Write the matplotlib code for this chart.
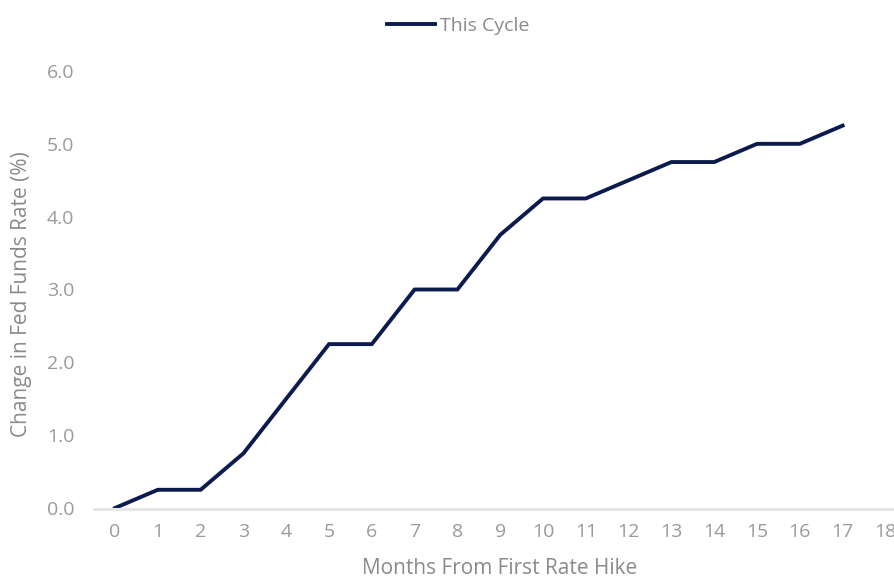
import matplotlib
matplotlib.use("Agg")
import matplotlib.pyplot as plt

months = list(range(0, 19))
month_labels = [str(m) for m in months]
this_cycle_x = list(range(0, 18))
this_cycle = [0.0, 0.25, 0.25, 0.75, 1.5, 2.25, 2.25, 3.0, 3.0, 3.75, 4.25, 4.25,
              4.5, 4.75, 4.75, 5.0, 5.0, 5.25]
y_ticks = [0.0, 1.0, 2.0, 3.0, 4.0, 5.0, 6.0]

plt.rcParams['font.family'] = ['Open Sans', 'DejaVu Sans']

W, H = 894, 579
fig = plt.figure(figsize=(W/100, H/100), dpi=100)
ax_left = 93.6 / W
ax = fig.add_axes([ax_left, (H - 508) / H, 1 - ax_left, (508 - 71) / H])

line, = ax.plot(this_cycle_x, this_cycle, color='#0c1b4d', lw=2.8, label='This Cycle',
                solid_joinstyle='miter')

ax.set_xlim(-0.5, 18.2)
ax.set_ylim(0, 6)
ax.set_xticks(months)
ax.set_xticklabels(month_labels)
ax.set_yticks(y_ticks)
ax.set_yticklabels([f"{v:.1f}" for v in y_ticks])

for s in ['top', 'right', 'left']:
    ax.spines[s].set_visible(False)
ax.spines['bottom'].set_color('#e6e6e6')
ax.spines['bottom'].set_linewidth(2.2)
ax.spines['bottom'].set_position(('outward', 1))
ax.tick_params(axis='both', length=0, colors='#9a9a9a', labelsize=14)
ax.tick_params(axis='x', pad=10)
ax.tick_params(axis='y', pad=14)

ax.set_xlabel('Months From First Rate Hike', color='#8a8a8a', fontsize=15)
ax.set_ylabel('Change in Fed Funds Rate (%)', color='#8a8a8a', fontsize=15)
# place axis titles at the reference positions (figure pixels -> axes coords)
ax_w_px = W * (1 - ax_left)
ax_h_px = 508 - 71
ax.xaxis.set_label_coords((500 - 93.6) / ax_w_px, -(568 - 508) / ax_h_px)
ax.yaxis.set_label_coords(-(93.6 - 22) / ax_w_px, (508 - 294) / ax_h_px)
ax.xaxis.label.set_verticalalignment('center')
ax.yaxis.label.set_verticalalignment('center')

leg = fig.legend(handles=[line], loc='center', bbox_to_anchor=(458 / W, 1 - 26 / H),
                 frameon=False, fontsize=14, handlelength=2.5, handletextpad=0.25)
for t in leg.get_texts():
    t.set_color('#8a8a8a')

fig.savefig('out.png', dpi=100)
